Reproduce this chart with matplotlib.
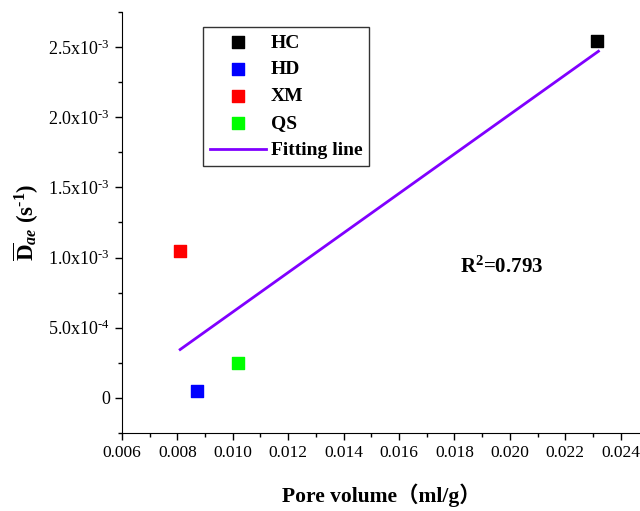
import numpy as np
import matplotlib.pyplot as plt
from matplotlib.ticker import MultipleLocator, FuncFormatter

# sample data
names = ['HC', 'HD', 'XM', 'QS']
pore_volume = [0.02315, 0.0087, 0.0081, 0.0102]
d_ae = [2.54e-3, 5.0e-5, 1.05e-3, 2.5e-4]
colors = ['#000000', '#0000ff', '#ff0000', '#00ff00']

fit_x = [0.0081, 0.0232]
fit_y = [3.45e-4, 2.47e-3]
r2_text = r'R$^{\mathbf{2}}$=0.793'

plt.rcParams['font.family'] = ['Liberation Serif', 'DejaVu Serif']
plt.rcParams['mathtext.fontset'] = 'custom'
plt.rcParams['mathtext.rm'] = 'Liberation Serif'
plt.rcParams['mathtext.it'] = 'Liberation Serif:italic:bold'
plt.rcParams['mathtext.bf'] = 'Liberation Serif:bold'

fig = plt.figure(figsize=(6.4, 5.11), dpi=100)
ax = fig.add_axes([0.1906, 0.1526, 0.8094, 0.824])

for n, x, y, c in zip(names, pore_volume, d_ae, colors):
    ax.scatter(x, y, marker='s', s=80, color=c, label=n, zorder=3)
ax.plot(fit_x, fit_y, color='#8000ff', lw=2, label='Fitting line')

ax.set_xlim(0.006, 0.0247)
ax.set_ylim(-2.5e-4, 2.75e-3)
ax.xaxis.set_major_locator(MultipleLocator(0.002))
ax.xaxis.set_minor_locator(MultipleLocator(0.001))
ax.yaxis.set_major_locator(MultipleLocator(5e-4))
ax.yaxis.set_minor_locator(MultipleLocator(2.5e-4))
ax.xaxis.set_major_formatter(FuncFormatter(lambda v, p: f'{v:.3f}'))


def yfmt(v, p):
    if abs(v) < 1e-12:
        return '0'
    e = int(np.floor(np.log10(abs(v))))
    m = v / 10 ** e
    return f'{m:.1f}x10$^{{\\mathrm{{\u2010}}{abs(e)}}}$'


ax.yaxis.set_major_formatter(FuncFormatter(yfmt))
ax.spines['top'].set_visible(False)
ax.spines['right'].set_visible(False)
ax.tick_params(which='major', direction='out', length=5, width=1, labelsize=13)
ax.tick_params(axis='x', labelsize=12.5)
ax.tick_params(which='minor', direction='out', length=3, width=1)

ax.set_xlabel('Pore volume\uff08ml/g\uff09', fontsize=15.5, fontweight='bold',
              family=['Liberation Serif', 'Noto Sans CJK SC'], labelpad=16)
ax.set_ylabel('$\\overline{\\mathbf{D}}_{ae}$ (s$^{\\mathbf{\u20101}}$)', fontsize=16.5,
              fontweight='bold', labelpad=5)

ax.text(0.0197, 8.9e-4, r2_text, fontsize=15, fontweight='bold', ha='center')

leg = ax.legend(loc='upper left', bbox_to_anchor=(0.156, 0.964), borderaxespad=0,
                fancybox=False, edgecolor='#333333', framealpha=1,
                prop={'weight': 'bold', 'size': 14},
                handlelength=2.9, handletextpad=0.25, labelspacing=0.48, borderpad=0.35)
leg.get_frame().set_linewidth(1)

fig.savefig('out.png', dpi=100)
